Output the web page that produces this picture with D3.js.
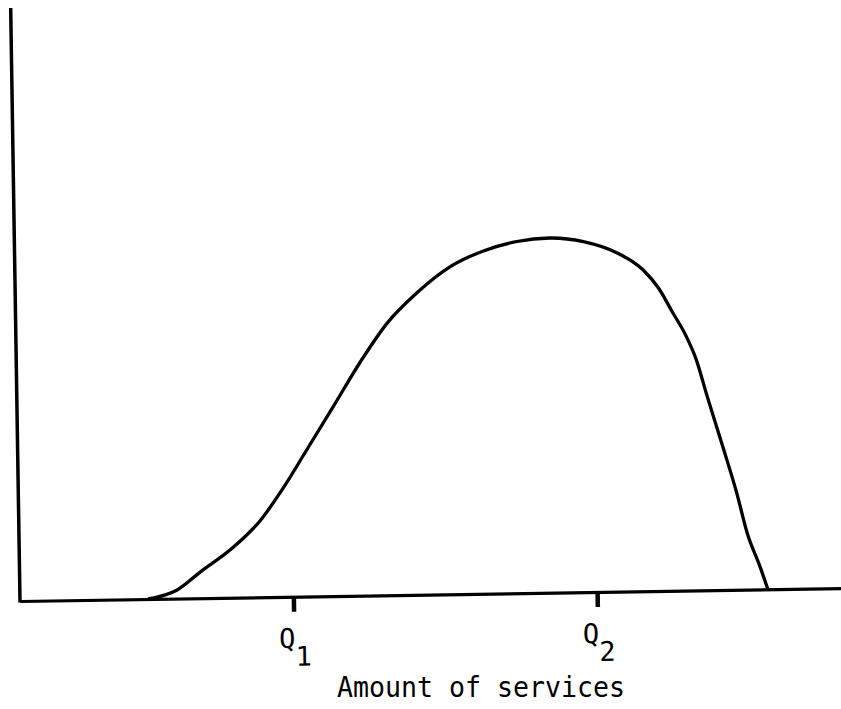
<!DOCTYPE html>
<html>
<head>
<meta charset="utf-8">
<script src="https://cdn.jsdelivr.net/npm/d3@7"></script>
<style>
  body { margin: 0; background: #fff; }
  svg { display: block; }
  text { font-family: "DejaVu Sans Mono", "Liberation Mono", monospace; fill: #000; }
</style>
</head>
<body>
<svg></svg>
<script>
// amount of services (0-100) and the curve height (0-100)
var amount = [15.6, 19.1, 22.0, 26.0, 29.4, 32.2, 35.2, 38.5, 41.9, 45.2, 49.0, 53.0, 57.1, 61.2,
              65.2, 69.3, 73.4, 76.5, 78.4, 80.0, 81.6, 82.8, 84.1, 85.9, 87.5, 88.7, 90.2, 91.1]
var level = [0, 1.4, 4.4, 8.4, 12.9, 18.2, 24.7, 31.9, 39.4, 45.8, 51.0, 55.2, 57.8, 59.3,
             59.8, 59.1, 57.1, 54.2, 51.0, 47.0, 43.0, 39.0, 32.6, 24.1, 16.3, 9.5, 3.8, 0]

var tickValues = [33.3, 70.3]
var tickLabels = ['1', '2']
var axisTitle = 'Amount of services'

var width = 841
var height = 709

// origin of the axes, the scan is turned a little
var originX = 20, originY = 601
var plotW = 821, plotH = 593
var tilt = -0.9

var svg = d3.select('svg').attr('width', width).attr('height', height)

var g = svg.append('g')
  .attr('transform', 'translate(' + originX + ',' + originY + ') rotate(' + tilt + ')')

var x = d3.scaleLinear().domain([0, 100]).range([0, plotW])
var y = d3.scaleLinear().domain([0, 100]).range([0, -plotH])

var points = amount.map(function (a, i) { return [a, level[i]] })

// y axis
g.append('line')
  .attr('x1', x(0)).attr('y1', y(0) + 1.5)
  .attr('x2', x(0)).attr('y2', y(100))
  .attr('stroke', '#000').attr('stroke-width', 3.5)

// x axis with the two ticks
var xAxis = d3.axisBottom(x)
  .tickValues(tickValues)
  .tickSize(15)
  .tickSizeOuter(0)
  .tickFormat('')

var ax = g.append('g').call(xAxis)
ax.select('.domain').attr('stroke-width', 3.2)
ax.selectAll('.tick line').attr('stroke-width', 4.5)

// Q labels with subscripts
var labels = g.selectAll('text.q')
  .data(tickValues)
  .enter().append('text')
    .attr('class', 'q')
    .attr('x', function (d) { return x(d) - 15 })
    .attr('y', 51)
    .style('font-size', '27px')

labels.append('tspan').text('Q')
labels.append('tspan')
  .attr('dx', 0)
  .attr('dy', 18)
  .text(function (d, i) { return tickLabels[i] })

// the curve
g.append('path')
  .datum(points)
  .attr('fill', 'none')
  .attr('stroke', '#000')
  .attr('stroke-width', 3.3)
  .attr('stroke-linejoin', 'round')
  .attr('d', d3.line()
    .x(function (d) { return x(d[0]) })
    .y(function (d) { return y(d[1]) })
    .curve(d3.curveMonotoneX))

// axis title
svg.append('text')
  .attr('x', 337)
  .attr('y', 697)
  .attr('textLength', 288)
  .attr('lengthAdjust', 'spacingAndGlyphs')
  .style('font-size', '28px')
  .text(axisTitle)
</script>
</body>
</html>
